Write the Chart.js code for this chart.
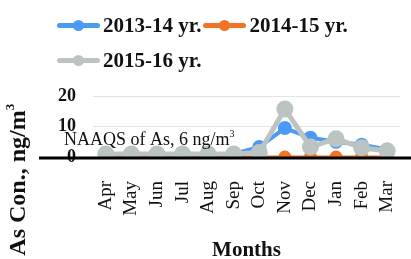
<!DOCTYPE html>
<html>
<head>
<meta charset="utf-8">
<script src="https://cdn.jsdelivr.net/npm/chart.js@4.4.1/dist/chart.umd.min.js"></script>
<style>
  body { margin: 0; background: #fff; }
  #wrap { position: relative; width: 411px; height: 259px; overflow: hidden; }
  #legend { position: absolute; left: 57px; top: 8px; width: 354px; font: bold 21px "Liberation Serif", serif; color: #111; }
  .item { display: inline-flex; align-items: center; margin-right: 2px; height: 35px; white-space: nowrap; }
  .swatch { position: relative; width: 43px; height: 5px; border-radius: 3px; margin-right: 3px; }
  .swatch span { position: absolute; left: 16px; top: -3px; width: 11px; height: 11px; border-radius: 50%; }
</style>
</head>
<body>
<div id="wrap">
  <div id="legend"></div>
  <canvas id="asChart" width="411" height="259"></canvas>
</div>
<script>
// ===== Data =====
const months = ["Apr", "May", "Jun", "Jul", "Aug", "Sep", "Oct", "Nov", "Dec", "Jan", "Feb", "Mar"];
const yr1314 = [1, 1, 1, 1, 1, 1, 3.3, 9.5, 6.3, 5, 4, 2.5];
const yr1415 = [0, 0, 0, 0, 0, 0, 0, 0, 0, 0, 0, 0];
const yr1516 = [1, 1, 1, 1, 1, 1, 1.5, 15.7, 3.3, 6, 3, 2];
const yTicks = [0, 10, 20];
const naaqsValue = 6;
const naaqsLabel = "NAAQS of As, 6 ng/m";

const serif = '"Liberation Serif", "Times New Roman", serif';

// thick black base line + NAAQS label + custom y title
const extras = {
  id: "extras",
  afterDatasetsDraw(chart) {
    const { ctx, chartArea, scales } = chart;
    const y0 = scales.y.getPixelForValue(0);
    ctx.save();
    ctx.strokeStyle = "#000";
    ctx.lineWidth = 3;
    ctx.beginPath();
    ctx.moveTo(chartArea.left - 54, y0 + 1);
    ctx.lineTo(chart.width, y0 + 1);
    ctx.stroke();

    // NAAQS text
    const yN = scales.y.getPixelForValue(naaqsValue);
    ctx.fillStyle = "#111";
    ctx.font = "18px " + serif;
    ctx.textBaseline = "middle";
    const tx = chartArea.left - 29;
    ctx.fillText(naaqsLabel, tx, yN + 2);
    const w = ctx.measureText(naaqsLabel).width;
    ctx.font = "10px " + serif;
    ctx.fillText("3", tx + w, yN - 4);

    // y title
    ctx.translate(19, 178);
    ctx.rotate(-Math.PI / 2);
    ctx.font = "bold 24px " + serif;
    ctx.textAlign = "center";
    ctx.textBaseline = "middle";
    const t = "As Con., ng/m";
    const tw = ctx.measureText(t).width;
    ctx.fillText(t, -5, 0);
    ctx.font = "bold 13px " + serif;
    ctx.textAlign = "left";
    ctx.fillText("3", -5 + tw / 2, -8);
    ctx.restore();
  }
};

const datasets = [
  { label: "2015-16 yr.", data: yr1516, borderColor: "#bcc3c3", backgroundColor: "#bcc3c3", borderWidth: 5, pointRadius: 6, order: 1 },
  { label: "2013-14 yr.", data: yr1314, borderColor: "#4b9af5", backgroundColor: "#4b9af5", borderWidth: 4, pointRadius: 5, order: 2 },
  { label: "2014-15 yr.", data: yr1415, borderColor: "#f37324", backgroundColor: "#f37324", borderWidth: 3, pointRadius: 5, order: 3 }
];

const chart = new Chart(document.getElementById("asChart"), {
  type: "line",
  data: { labels: months, datasets: datasets },
  options: {
    responsive: false,
    animation: false,
    layout: { padding: { top: 96, left: 41, right: 11, bottom: 0 } },
    plugins: { legend: { display: false }, tooltip: { enabled: false } },
    scales: {
      x: {
        offset: true,
        grid: { display: false },
        border: { display: false },
        afterFit(scale) {
          scale.height = 102;
          scale.paddingLeft = 0;
          scale.paddingRight = 0;
        },
        ticks: { color: "#111", font: { family: serif, size: 19 }, minRotation: 90, maxRotation: 90, autoSkip: false, padding: 16 },
        title: { display: true, text: "Months", color: "#111", font: { family: serif, size: 21, weight: "bold" }, padding: { top: 4, bottom: -4 } }
      },
      y: {
        min: 0,
        max: 20,
        afterBuildTicks(axis) { axis.ticks = yTicks.map(v => ({ value: v })); },
        grid: { color: "#e3e3e3", drawTicks: false },
        border: { display: false },
        ticks: { color: "#111", font: { family: serif, size: 18, weight: "bold" }, padding: 17 }
      }
    }
  },
  plugins: [extras]
});

// ===== Legend (HTML) =====
const legendOrder = [1, 2, 0];
const legend = document.getElementById("legend");
legendOrder.forEach(function (i, n) {
  const ds = chart.data.datasets[i];
  const item = document.createElement("div");
  item.className = "item";
  item.innerHTML = '<div class="swatch" style="background:' + ds.borderColor + '"><span style="background:' + ds.borderColor + '"></span></div>' + ds.label;
  legend.appendChild(item);
  if (n === 1) legend.appendChild(document.createElement("br"));
});
</script>
</body>
</html>
